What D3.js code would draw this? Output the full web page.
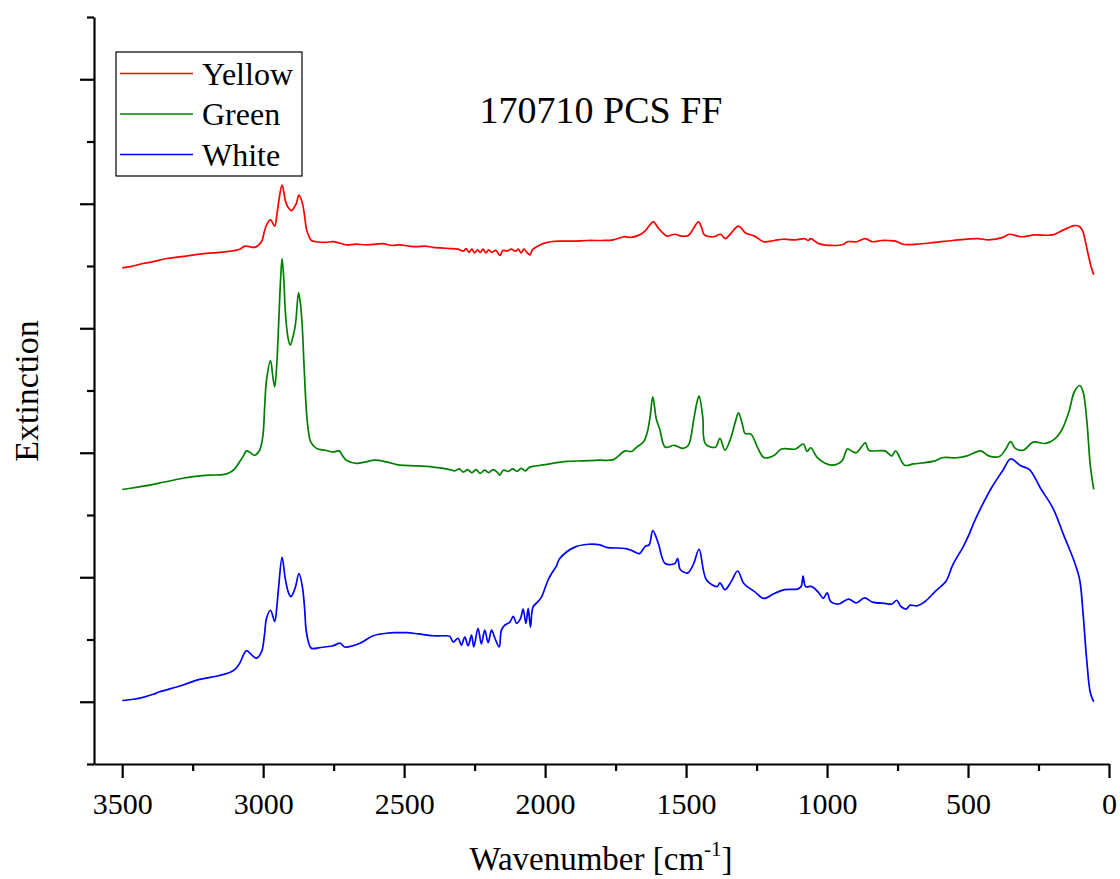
<!DOCTYPE html>
<html>
<head>
<meta charset="utf-8">
<script src="https://cdn.jsdelivr.net/npm/d3@7"></script>
<style>
  html, body { margin: 0; padding: 0; background: #fff; }
  svg { display: block; }
  text { font-family: "Liberation Serif", "Times New Roman", serif; fill: #000; }
</style>
</head>
<body>
<svg id="chart" width="1120" height="879"></svg>
<script>
// spectra (wavenumber in cm-1, extinction in offset units)
const yellowWn = [3500,3470,3426,3390,3343,3290,3225,3180,3130,3083,3065,3048,3030,3006,2996,2988,2974,2959,2952,2944,2933,2920,2910,2900,2890,2882,2873,2861,2853,2846,2837,2829,2811,2780,2752,2730,2705,2670,2634,2600,2575,2545,2515,2485,2456,2425,2398,2370,2338,2310,2290,2280,2270,2260,2250,2240,2230,2220,2210,2200,2190,2175,2160,2150,2135,2120,2105,2095,2085,2075,2065,2054,2045,2030,2007,1980,1948,1900,1850,1800,1758,1720,1694,1665,1644,1616,1599,1580,1568,1540,1517,1492,1473,1456,1445,1435,1403,1378,1361,1340,1314,1289,1257,1225,1187,1156,1112,1080,1067,1058,1029,985,941,928,896,864,839,807,782,757,731,681,617,554,465,427,376,354,313,263,199,161,123,104,92,85,72,63,54];
const yellowExt = [7.97,7.99,8.04,8.07,8.12,8.15,8.19,8.21,8.23,8.27,8.32,8.31,8.30,8.39,8.55,8.66,8.74,8.64,8.80,9.06,9.30,9.03,8.93,8.89,8.94,9.01,9.14,9.01,8.80,8.58,8.47,8.41,8.39,8.38,8.39,8.37,8.34,8.35,8.34,8.35,8.36,8.33,8.34,8.32,8.31,8.32,8.30,8.29,8.28,8.27,8.24,8.28,8.22,8.27,8.21,8.26,8.22,8.27,8.21,8.26,8.22,8.25,8.17,8.25,8.24,8.27,8.24,8.27,8.21,8.27,8.22,8.18,8.26,8.31,8.36,8.39,8.40,8.40,8.41,8.41,8.42,8.47,8.46,8.50,8.57,8.71,8.61,8.52,8.48,8.51,8.48,8.49,8.61,8.71,8.62,8.50,8.47,8.51,8.44,8.53,8.64,8.53,8.48,8.39,8.41,8.43,8.42,8.44,8.41,8.44,8.36,8.33,8.35,8.39,8.39,8.44,8.39,8.41,8.41,8.40,8.35,8.35,8.38,8.41,8.44,8.42,8.46,8.51,8.47,8.50,8.50,8.58,8.65,8.63,8.55,8.42,8.15,7.98,7.86];

const greenWn = [3500,3470,3430,3402,3350,3284,3240,3189,3142,3120,3101,3083,3070,3059,3045,3030,3015,3008,3000,2994,2988,2974,2965,2959,2952,2945,2938,2933,2927,2921,2912,2904,2895,2885,2878,2874,2868,2862,2855,2846,2838,2832,2811,2780,2752,2731,2718,2705,2669,2640,2604,2560,2515,2460,2397,2338,2320,2305,2290,2275,2260,2245,2230,2215,2200,2185,2170,2161,2148,2130,2115,2100,2085,2070,2055,2043,2000,1960,1924,1870,1806,1758,1716,1694,1675,1650,1637,1627,1618,1606,1593,1574,1542,1511,1492,1473,1462,1454,1441,1431,1396,1380,1362,1342,1325,1314,1300,1291,1270,1245,1223,1187,1162,1112,1084,1071,1058,1036,1010,982,947,928,910,896,864,852,795,770,757,725,693,617,592,541,503,455,427,389,366,349,332,304,269,225,193,167,142,123,104,92,79,66,54];
const greenExt = [4.41,4.43,4.46,4.48,4.53,4.59,4.62,4.64,4.65,4.68,4.74,4.86,4.95,5.03,5.00,4.96,5.02,5.10,5.31,5.80,6.17,6.48,6.20,6.06,6.40,7.08,7.80,8.12,7.80,7.24,6.85,6.73,6.85,7.08,7.45,7.57,7.40,7.08,6.40,5.63,5.30,5.18,5.07,5.04,5.01,5.03,4.95,4.88,4.83,4.85,4.88,4.85,4.80,4.79,4.77,4.73,4.71,4.74,4.69,4.73,4.68,4.73,4.67,4.72,4.68,4.73,4.69,4.64,4.72,4.70,4.74,4.70,4.75,4.71,4.77,4.78,4.81,4.84,4.86,4.87,4.88,4.89,5.03,5.02,5.09,5.18,5.34,5.60,5.90,5.55,5.37,5.09,5.12,5.07,5.12,5.53,5.80,5.91,5.58,5.14,5.09,5.23,5.04,5.23,5.50,5.64,5.45,5.31,5.30,5.07,4.92,4.96,5.06,5.06,5.14,5.02,5.08,4.93,4.84,4.80,4.87,5.06,5.02,5.00,5.16,5.04,5.03,4.95,5.03,4.80,4.82,4.87,4.92,4.92,4.95,5.03,4.95,4.94,5.06,5.18,5.07,5.04,5.17,5.15,5.22,5.37,5.66,5.98,6.08,5.98,5.53,4.78,4.41];

const whiteWn = [3500,3460,3426,3390,3367,3320,3284,3225,3166,3119,3100,3083,3070,3059,3040,3024,3006,2996,2988,2974,2959,2952,2945,2933,2921,2910,2902,2893,2885,2873,2861,2853,2846,2829,2799,2752,2726,2711,2657,2610,2563,2530,2492,2450,2397,2360,2338,2326,2309,2297,2285,2273,2261,2253,2238,2226,2214,2202,2190,2178,2163,2155,2143,2125,2113,2101,2087,2078,2068,2060,2052,2043,2025,2013,2004,1989,1977,1960,1948,1897,1846,1806,1783,1713,1688,1666,1644,1631,1618,1599,1574,1540,1530,1520,1494,1473,1454,1428,1390,1380,1362,1340,1317,1295,1257,1225,1187,1150,1105,1092,1085,1076,1054,1029,1013,1000,987,959,924,896,867,839,795,770,753,738,719,706,681,655,617,579,554,516,497,478,446,415,376,349,313,282,243,199,161,123,104,92,79,66,54];
const whiteExt = [1.02,1.04,1.07,1.12,1.16,1.22,1.27,1.36,1.41,1.47,1.52,1.62,1.75,1.82,1.75,1.70,1.80,2.05,2.34,2.47,2.29,2.50,2.85,3.32,2.96,2.75,2.69,2.75,2.85,3.06,2.85,2.50,2.10,1.86,1.87,1.90,1.94,1.88,1.94,2.06,2.10,2.11,2.11,2.09,2.06,2.06,2.05,1.96,2.02,1.91,2.04,1.90,2.07,1.88,2.18,1.93,2.15,1.95,2.15,2.02,1.88,2.15,2.23,2.28,2.37,2.26,2.34,2.49,2.26,2.50,2.20,2.52,2.61,2.68,2.78,2.96,3.06,3.18,3.30,3.48,3.53,3.52,3.48,3.46,3.42,3.38,3.50,3.52,3.75,3.55,3.22,3.22,3.30,3.12,3.07,3.22,3.45,2.96,2.85,2.91,2.80,2.93,3.10,2.90,2.77,2.66,2.74,2.80,2.81,2.85,3.02,2.85,2.85,2.75,2.66,2.75,2.61,2.57,2.65,2.59,2.67,2.60,2.58,2.57,2.63,2.53,2.49,2.55,2.54,2.60,2.77,2.93,3.20,3.50,3.68,3.89,4.19,4.45,4.72,4.90,4.79,4.73,4.43,4.11,3.68,3.25,2.96,2.42,1.67,1.14,1.00];

const seriesNames = ["Yellow", "Green", "White"];
const seriesColors = ["#ff0000", "#008000", "#0000ff"];
const xMajorTicks = [3500, 3000, 2500, 2000, 1500, 1000, 500, 0];
const xMinorTicks = [3250, 2750, 2250, 1750, 1250, 750, 250];
const yMajorTicks = [1, 3, 5, 7, 9, 11];
const yMinorTicks = [0, 2, 4, 6, 8, 10, 12];
const chartTitle = "170710 PCS FF";

const svg = d3.select("#chart");

const x = d3.scaleLinear().domain([3600, 0]).range([94, 1109]);
const y = d3.scaleLinear().domain([0, 12]).range([764, 17]);

const series = [
  { name: seriesNames[0], color: seriesColors[0], wn: yellowWn, ext: yellowExt },
  { name: seriesNames[1], color: seriesColors[1], wn: greenWn, ext: greenExt },
  { name: seriesNames[2], color: seriesColors[2], wn: whiteWn, ext: whiteExt }
];

const line = d3.line()
  .x(d => x(d[0]))
  .y(d => y(d[1]))
  .curve(d3.curveCatmullRom.alpha(0.5));

// spectra
svg.append("g")
  .selectAll("path")
  .data(series)
  .enter()
  .append("path")
    .attr("d", s => line(d3.zip(s.wn, s.ext)))
    .attr("fill", "none")
    .attr("stroke", s => s.color)
    .attr("stroke-width", 1.7)
    .attr("stroke-linejoin", "round");

// x axis: minor then major (with labels)
const xMinor = svg.append("g")
  .attr("transform", "translate(0,764)")
  .call(d3.axisBottom(x).tickValues(xMinorTicks).tickSize(7).tickSizeOuter(0).tickFormat(""));
xMinor.select(".domain").remove();

const xMajor = svg.append("g")
  .attr("transform", "translate(0,764)")
  .call(d3.axisBottom(x).tickValues(xMajorTicks).tickSize(14).tickSizeOuter(0).tickFormat(d3.format("d")));
xMajor.selectAll("text")
  .attr("y", 50)
  .attr("dy", null)
  .style("font-family", '"Liberation Serif", "Times New Roman", serif')
  .style("font-size", "30px")
  .attr("fill", "#000");

// y axis, ticks only
const yMinor = svg.append("g")
  .attr("transform", "translate(94,0)")
  .call(d3.axisLeft(y).tickValues(yMinorTicks).tickSize(7).tickSizeOuter(0).tickFormat(""));
yMinor.select(".domain").remove();

svg.append("g")
  .attr("transform", "translate(94,0)")
  .call(d3.axisLeft(y).tickValues(yMajorTicks).tickSize(14).tickSizeOuter(0).tickFormat(""));

svg.selectAll(".domain, .tick line")
  .attr("stroke", "#000")
  .attr("stroke-width", 2.2);

// axis titles
const xTitle = svg.append("text")
  .attr("x", 601)
  .attr("y", 870)
  .attr("text-anchor", "middle")
  .style("font-size", "33px");
xTitle.append("tspan").text("Wavenumber [cm");
xTitle.append("tspan").attr("dy", -14).style("font-size", "21px").text("-1");
xTitle.append("tspan").attr("dy", 14).text("]");

svg.append("text")
  .attr("transform", "translate(38,391) rotate(-90)")
  .attr("text-anchor", "middle")
  .style("font-size", "34px")
  .text("Extinction");

// title inside the frame
svg.append("text")
  .attr("x", 601)
  .attr("y", 123)
  .attr("text-anchor", "middle")
  .style("font-size", "38px")
  .text(chartTitle);

// legend
const legend = svg.append("g");
legend.append("rect")
  .attr("x", 116)
  .attr("y", 52)
  .attr("width", 186)
  .attr("height", 124)
  .attr("fill", "#fff")
  .attr("stroke", "#000")
  .attr("stroke-width", 1.2);

const rows = legend.selectAll("g.row")
  .data(series)
  .enter()
  .append("g")
    .attr("class", "row")
    .attr("transform", (d, i) => `translate(0,${73.5 + i * 40.5})`);

rows.append("line")
  .attr("x1", 120).attr("x2", 193)
  .attr("y1", 0).attr("y2", 0)
  .attr("stroke", d => d.color)
  .attr("stroke-width", 1.6);

rows.append("text")
  .attr("x", 202)
  .attr("y", 11)
  .style("font-size", "32px")
  .text(d => d.name);
</script>
</body>
</html>
